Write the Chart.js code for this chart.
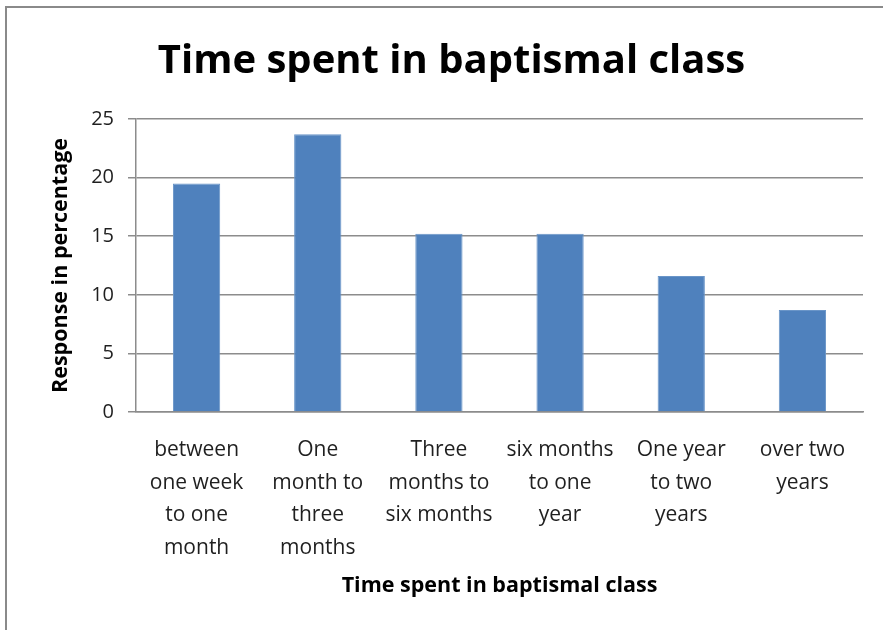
<!DOCTYPE html>
<html>
<head>
<meta charset="utf-8">
<script src="https://cdn.jsdelivr.net/npm/chart.js@4.4.1/dist/chart.umd.min.js"></script>
<style>
  html, body { margin: 0; padding: 0; background: #fff; }
  #wrap { position: relative; width: 883px; height: 630px; }
  #frame { position: absolute; left: 5px; top: 6px; right: -10px; bottom: -10px;
           border-left: 2px solid #8a8a8a; border-top: 2px solid #8a8a8a; pointer-events: none; }
</style>
</head>
<body>
<div id="wrap">
  <canvas id="chart" width="883" height="630"></canvas>
  <div id="frame"></div>
</div>
<script>
const categories = [
  ["between", "one week", "to one", "month"],
  ["One", "month to", "three", "months"],
  ["Three", "months to", "six months"],
  ["six months", "to one", "year"],
  ["One year", "to two", "years"],
  ["over two", "years"]
];
const responses = [19.5, 23.7, 15.2, 15.2, 11.6, 8.7];
const yTicks = [0, 5, 10, 15, 20, 25];

const fontName = "'Open Sans', 'DejaVu Sans', sans-serif";
const gridColor = "#8c8c8c";

const ctx = document.getElementById("chart").getContext("2d");

new Chart(ctx, {
  type: "bar",
  data: {
    labels: categories,
    datasets: [{
      label: "Response in percentage",
      data: responses,
      backgroundColor: "#4f81bd",
      borderColor: "#6a95c8",
      borderWidth: 1,
      categoryPercentage: 1,
      barPercentage: 0.39
    }]
  },
  options: {
    responsive: false,
    animation: false,
    layout: { padding: { left: 40, right: 20, top: 0, bottom: 0 } },
    plugins: {
      legend: { display: false },
      tooltip: { enabled: false },
      title: {
        display: true,
        text: "Time spent in baptismal class",
        color: "#000",
        font: { family: fontName, size: 40, weight: "bold" },
        padding: { top: 38, bottom: 33 }
      }
    },
    scales: {
      x: {
        grid: { display: false, drawTicks: false },
        border: { display: true, color: gridColor, width: 1.5 },
        ticks: {
          color: "#1f1f1f",
          font: { family: fontName, size: 21, lineHeight: 1.55 },
          padding: 22,
          maxRotation: 0,
          minRotation: 0,
          autoSkip: false
        },
        title: {
          display: true,
          text: "Time spent in baptismal class",
          color: "#000",
          font: { family: fontName, size: 21.5, weight: "bold" },
          padding: { top: 0, bottom: 31 }
        },
        afterFit: (scale) => { scale.height = 218; }
      },
      y: {
        min: 0,
        max: 25,
        afterBuildTicks: (scale) => { scale.ticks = yTicks.map(v => ({ value: v })); },
        grid: { color: gridColor, lineWidth: 1.5, drawTicks: true, tickLength: 8 },
        border: { display: true, color: gridColor, width: 1.5 },
        ticks: {
          color: "#1f1f1f",
          font: { family: fontName, size: 20 },
          padding: 14
        },
        title: {
          display: true,
          text: "Response in percentage",
          color: "#000",
          font: { family: fontName, size: 21.5, weight: "bold" },
          padding: { top: 8, bottom: 0 }
        },
        afterFit: (scale) => { scale.width = 96; }
      }
    }
  }
});
</script>
</body>
</html>
